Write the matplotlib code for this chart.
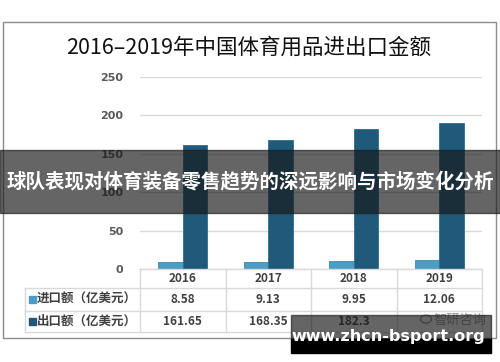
import matplotlib
matplotlib.use("Agg")
import matplotlib.pyplot as plt
from matplotlib.patches import Rectangle
from matplotlib.lines import Line2D
from matplotlib.transforms import blended_transform_factory

plt.rcParams['font.family'] = ['Noto Sans CJK SC', 'DejaVu Sans']

# Datos
anios = ["2016", "2017", "2018", "2019"]
importacion = [8.58, 9.13, 9.95, 12.06]
exportacion = [161.65, 168.35, 182.3, 190.5]
etiquetas_tabla = ["8.58", "9.13", "9.95", "12.06"]
etiquetas_tabla2 = ["161.65", "168.35", "182.3", ""]  # la ultima queda tapada por el logo
series = ["进口额（亿美元）", "出口额（亿美元）"]
ticks_y = [0, 50, 100, 150, 200, 250]

titulo = "2016–2019年中国体育用品进出口金额"
banner = "球队表现对体育装备零售趋势的深远影响与市场变化分析"
marca = "www.zhcn-bsport.org"

color_imp = "#4c9cc3"
color_exp = "#1f5a7b"
gris_linea = "#d9d9d9"
gris_texto = "#404040"

W, H = 500, 362
fig = plt.figure(figsize=(W / 100, H / 100), dpi=100)


def fy(py):
    # pixel desde arriba -> coordenada de figura
    return (H - py) / H


def fx(px):
    return px / W


# Marco exterior
fig.add_artist(Rectangle((fx(3), fy(338)), fx(493), (338 - 22) / H,
                         transform=fig.transFigure, fill=False,
                         edgecolor="#8c8c8c", linewidth=1))

fig.text(0.497, fy(48), titulo, ha="center", va="center",
         fontsize=15.5, color="#111111")

ax = fig.add_axes([fx(140), fy(269), fx(342), (269 - 77) / H])
x = list(range(len(anios)))
ancho = 0.285
ax.bar([i - ancho / 2 for i in x], importacion, width=ancho, color=color_imp,
       edgecolor="#3f86aa", linewidth=0.6, zorder=3)
ax.bar([i + ancho / 2 for i in x], exportacion, width=ancho, color=color_exp,
       edgecolor="#2e6d8f", linewidth=0.6, zorder=3)
ax.set_xlim(-0.5, 3.5)
ax.set_ylim(0, 250)
ax.set_yticks(ticks_y)
ax.set_yticklabels([str(t) for t in ticks_y], fontsize=8, fontweight="bold",
                   color="#595959", family=["DejaVu Sans"])
ax.tick_params(axis="y", length=0, pad=12)
ax.set_xticks([])
ax.grid(axis="y", color=gris_linea, linewidth=1, zorder=0)
for s in ax.spines.values():
    s.set_visible(False)

# Tabla de datos
tr = blended_transform_factory(ax.transData, fig.transFigure)
filas_y = [269, 288, 311, 332]
for py in filas_y:
    x0 = -0.5 if py == 269 else (fx(25) - fx(140)) / fx(342) * 4 - 0.5
    fig.add_artist(Line2D([x0, 3.5], [fy(py), fy(py)], transform=tr,
                          color=gris_linea, linewidth=1))
for b in [-0.5, 0.5, 1.5, 2.5, 3.5]:
    fig.add_artist(Line2D([b, b], [fy(269), fy(332)], transform=tr,
                          color=gris_linea, linewidth=1))
fig.add_artist(Line2D([fx(25), fx(25)], [fy(288), fy(332)],
                      transform=fig.transFigure, color=gris_linea, linewidth=1))

for i, a in enumerate(anios):
    fig.text(i, fy(278.5), a, transform=tr, ha="center", va="center",
             fontsize=8.5, fontweight="bold", color=gris_texto)
    fig.text(i, fy(299.5), etiquetas_tabla[i], transform=tr, ha="center",
             va="center", fontsize=8.5, fontweight="bold", color=gris_texto)
    if etiquetas_tabla2[i]:
        fig.text(i, fy(321.5), etiquetas_tabla2[i], transform=tr, ha="center",
                 va="center", fontsize=8.5, fontweight="bold", color=gris_texto)

for fila, (nombre, col) in zip([299.5, 321.5], zip(series, [color_imp, color_exp])):
    fig.add_artist(Rectangle((fx(29), fy(fila) - 3.5 / H), 7 / W, 7 / H,
                             transform=fig.transFigure, color=col))
    fig.text(fx(37), fy(fila), nombre, ha="left", va="center",
             fontsize=9, fontweight="bold", color=gris_texto)

# Logo tenue
fig.add_artist(plt.Circle((fx(426), fy(319)), 5.5 / W, transform=fig.transFigure,
                          fill=False, edgecolor="#9a9a9a", linewidth=1))
fig.text(fx(486), fy(320), "智研咨询", ha="right", va="center",
         fontsize=9.5, color="#9a9a9a")

# Banda superpuesta
fig.add_artist(Rectangle((0, fy(213)), 1, 63 / H, transform=fig.transFigure,
                         color="#191919", alpha=0.67, zorder=10))
fig.text(0.5, fy(181), banner, ha="center", va="center", fontsize=14,
         fontweight="bold", color="white", zorder=11)

# Marca de agua inferior
fig.add_artist(Rectangle((fx(291), fy(339)), 200 / W, 24 / H,
                         transform=fig.transFigure, color="#191919",
                         alpha=0.67, zorder=10))
fig.add_artist(Rectangle((fx(291), fy(353)), 200 / W, 14 / H,
                         transform=fig.transFigure, color="black", zorder=10))
fig.text(fx(388), fy(337), marca, ha="center", va="center", fontsize=11.5,
         fontweight="bold", color="white", family=["DejaVu Sans"], zorder=11)

fig.savefig("out.png", dpi=100)
